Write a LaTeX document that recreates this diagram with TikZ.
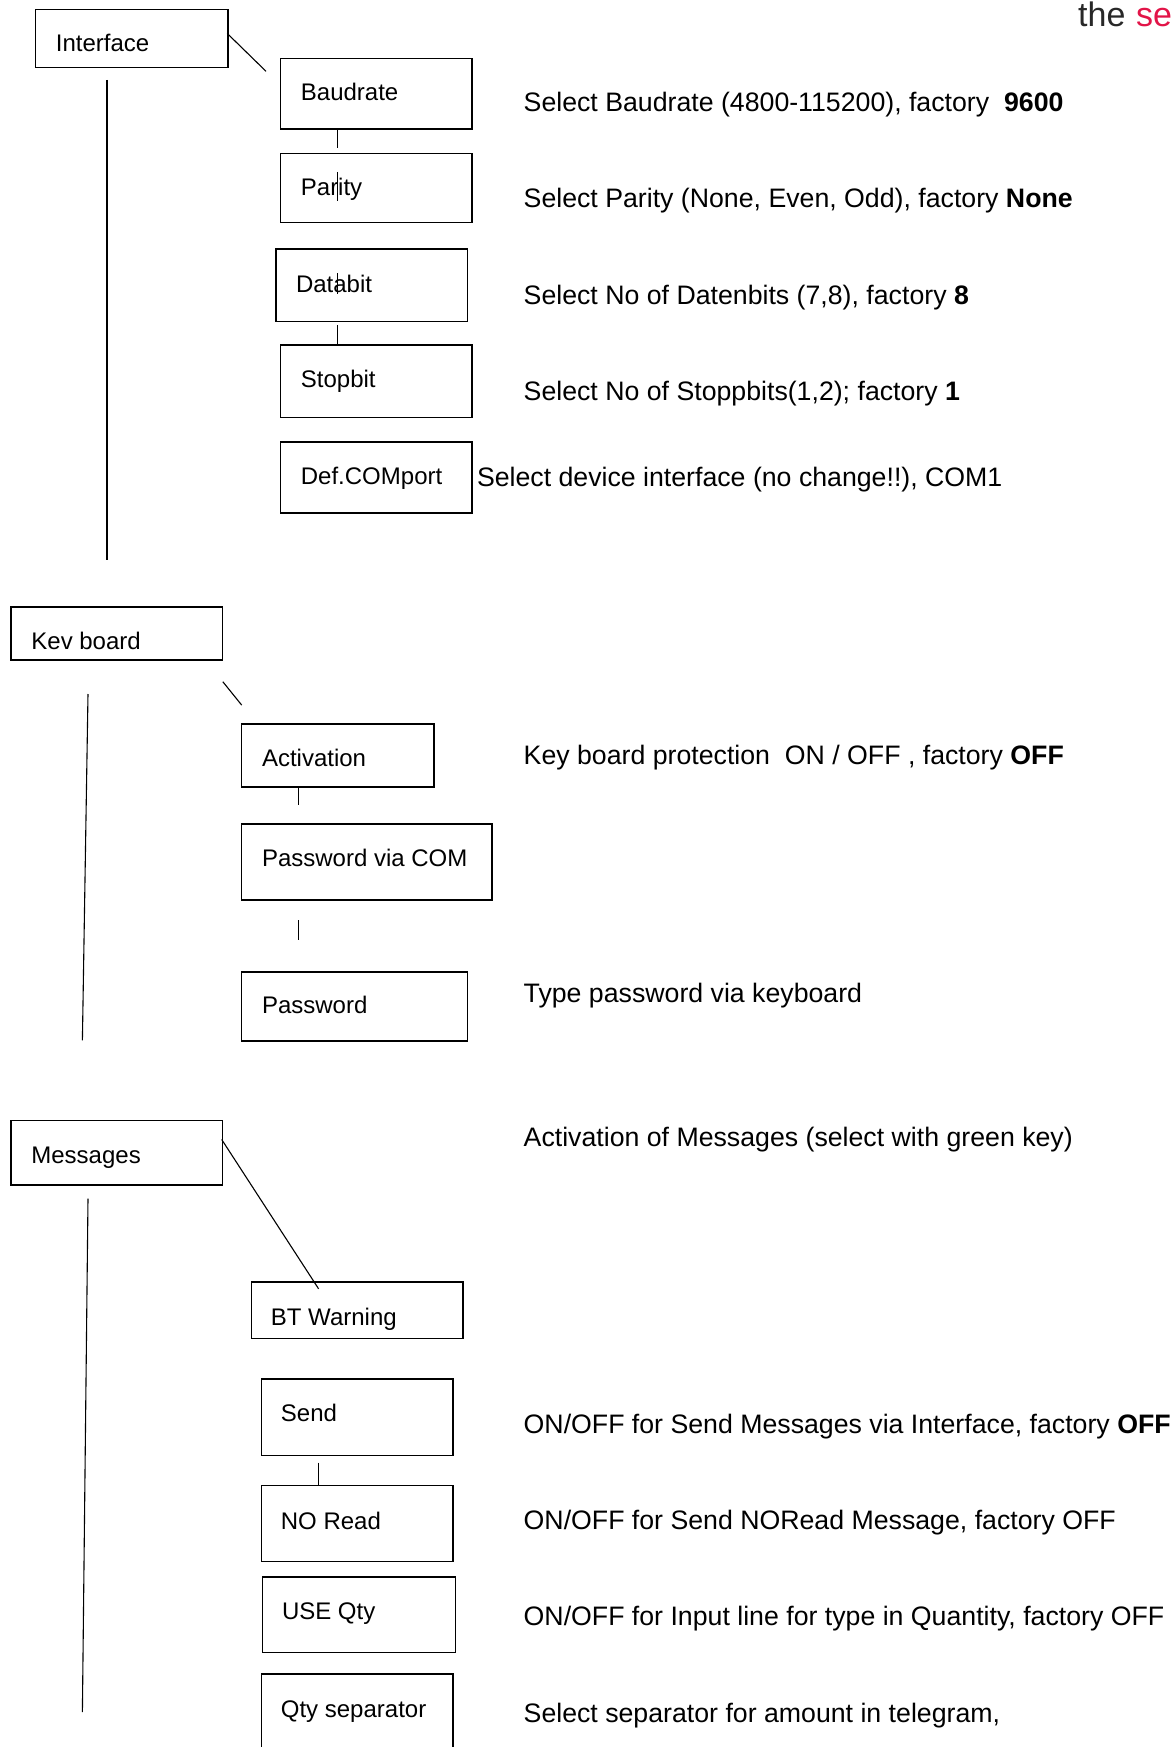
\documentclass[tikz,border=0pt]{standalone}
\usepackage{fontspec}
\setmainfont{Liberation Sans}
\definecolor{brandred}{RGB}{226,20,72}
\definecolor{brandgray}{RGB}{40,40,40}
\begin{document}
\begin{tikzpicture}[x=1pt,y=-1pt,
  box/.style={draw=black,line width=1.5pt,rectangle,anchor=north west,inner sep=0pt},
  lbl/.style={anchor=base west,inner sep=0pt,font=\fontsize{24}{28}\selectfont},
  desc/.style={anchor=base west,inner sep=0pt,font=\fontsize{26.7}{31}\selectfont},
  logofont/.style={anchor=base west,inner sep=0pt,font=\fontsize{34}{38}\selectfont},
  link/.style={draw=black,line width=1.1pt}]
\useasboundingbox (0,0) rectangle (1174,1747);
\clip (0,0) rectangle (1174,1747);

% logo fragment
\node[logofont,text=brandgray] (logo1) at (1078,26.5) {the};
\node[logofont,text=brandred] (logo2) at (1136,26.5) {se};

% ---------------- Interface ----------------
\node[box,minimum width=192.7pt,minimum height=57.9pt] (iface) at (34.5,8.9) {};
\node[lbl] (ifaceT) at (55.7,52) {Interface};

\node[box,minimum width=191.6pt,minimum height=70.2pt] (baud) at (279.6,57.9) {};
\node[lbl] (baudT) at (300.7,100.5) {Baudrate};
\node[box,minimum width=191.6pt,minimum height=69.1pt] (par) at (279.6,152.6) {};
\node[lbl] (parT) at (300.7,196) {Parity};
\node[box,minimum width=191.6pt,minimum height=72.4pt] (dat) at (275.1,248.4) {};
\node[lbl] (datT) at (295.8,292) {Databit};
\node[box,minimum width=191.6pt,minimum height=72.4pt] (stop) at (279.6,344.2) {};
\node[lbl] (stopT) at (300.7,387.6) {Stopbit};
\node[box,minimum width=191.6pt,minimum height=71.4pt] (com) at (279.6,441) {};
\node[lbl] (comT) at (300.7,484.5) {Def.COMport};

\node[desc] (baudD) at (523.5,111.4) {Select Baudrate (4800-115200), factory\ \ \textbf{9600}};
\node[desc] (parD) at (523.5,207.5) {Select Parity (None, Even, Odd), factory \textbf{None}};
\node[desc] (datD) at (523.5,304) {Select No of Datenbits (7,8), factory \textbf{8}};
\node[desc] (stopD) at (523.5,400) {Select No of Stoppbits(1,2); factory \textbf{1}};
\node[desc] (comD) at (476.8,486) {Select device interface (no change!!), COM1};

\coordinate (i1) at (227.2,33.4);
\coordinate (i2) at (266,71.3);
\draw[link] (i1) -- (i2);
\coordinate (iv1) at (107,80);
\coordinate (iv2) at (107,560);
\draw[link] (iv1) -- (iv2);
\coordinate (bp) at (337.5,148);
\draw[link] (baud.south -| bp) -- (bp);
\coordinate (pl1) at (337.5,172);
\coordinate (pl2) at (337.5,201.5);
\draw[link] (pl1) -- (pl2);
\coordinate (dl1) at (337.5,273);
\coordinate (dl2) at (337.5,294);
\draw[link] (dl1) -- (dl2);
\coordinate (ds1) at (337.5,325);
\draw[link] (ds1) -- (stop.north -| ds1);

% ---------------- Key board ----------------
\node[box,minimum width=211.7pt,minimum height=53.4pt] (kev) at (10,606) {};
\node[lbl] (kevT) at (31.2,649.4) {Kev board};

\node[box,minimum width=192.7pt,minimum height=63.4pt] (act) at (240.6,723) {};
\node[lbl] (actT) at (261.8,766.4) {Activation};
\node[box,minimum width=250.6pt,minimum height=75.8pt] (pcom) at (240.6,823.2) {};
\node[lbl] (pcomT) at (261.8,866.6) {Password via COM};
\node[box,minimum width=226.1pt,minimum height=69.1pt] (pw) at (240.6,971.3) {};
\node[lbl] (pwT) at (261.8,1013) {Password};

\node[desc] (actD) at (523.5,764) {Key board protection\ \ ON / OFF , factory \textbf{OFF}};
\node[desc] (pwD) at (523.5,1002.5) {Type password via keyboard};

\coordinate (k1) at (222.8,681.7);
\coordinate (k2) at (241.7,705.1);
\draw[link] (k1) -- (k2);
\coordinate (kv1) at (88,694);
\coordinate (kv2) at (82.4,1040.4);
\draw[link] (kv1) -- (kv2);
\coordinate (ap) at (298.5,805.4);
\draw[link] (act.south -| ap) -- (ap);
\coordinate (pp1) at (298.5,920);
\coordinate (pp2) at (298.5,940);
\draw[link] (pp1) -- (pp2);

% ---------------- Messages ----------------
\node[box,minimum width=211.7pt,minimum height=64.5pt] (msg) at (10,1119.5) {};
\node[lbl] (msgT) at (31.2,1163) {Messages};

\node[box,minimum width=211.7pt,minimum height=56.8pt] (bt) at (250.6,1281) {};
\node[lbl] (btT) at (270.7,1325.5) {BT Warning};
\node[box,minimum width=191.5pt,minimum height=76.8pt] (send) at (260.7,1378) {};
\node[lbl] (sendT) at (280.7,1421.3) {Send};
\node[box,minimum width=191.5pt,minimum height=75.8pt] (nor) at (260.7,1484.8) {};
\node[lbl] (norT) at (280.7,1529.4) {NO Read};
\node[box,minimum width=192.7pt,minimum height=75.7pt] (qty) at (261.8,1576.2) {};
\node[lbl] (qtyT) at (281.8,1619.6) {USE Qty};
\node[box,minimum width=191.5pt,minimum height=110pt] (sep) at (260.7,1673) {};
\node[lbl] (sepT) at (280.7,1717.7) {Qty separator};

\node[desc] (msgD) at (523.5,1146.2) {Activation of Messages (select with green key)};
\node[desc] (sendD) at (523.5,1433.6) {ON/OFF for Send Messages via Interface, factory \textbf{OFF}};
\node[desc] (norD) at (523.5,1529.4) {ON/OFF for Send NORead Message, factory OFF};
\node[desc] (qtyD) at (523.5,1625.2) {ON/OFF for Input line for type in Quantity, factory OFF};
\node[desc] (sepD) at (523.5,1722) {Select separator for amount in telegram,};

\coordinate (m1) at (221.7,1139.5);
\coordinate (m2) at (318.6,1288.8);
\draw[link] (m1) -- (m2);
\coordinate (mv1) at (88,1198.6);
\coordinate (mv2) at (82.4,1712);
\draw[link] (mv1) -- (mv2);
\coordinate (sn) at (318.6,1462.5);
\draw[link] (sn) -- (nor.north -| sn);
\end{tikzpicture}
\end{document}
